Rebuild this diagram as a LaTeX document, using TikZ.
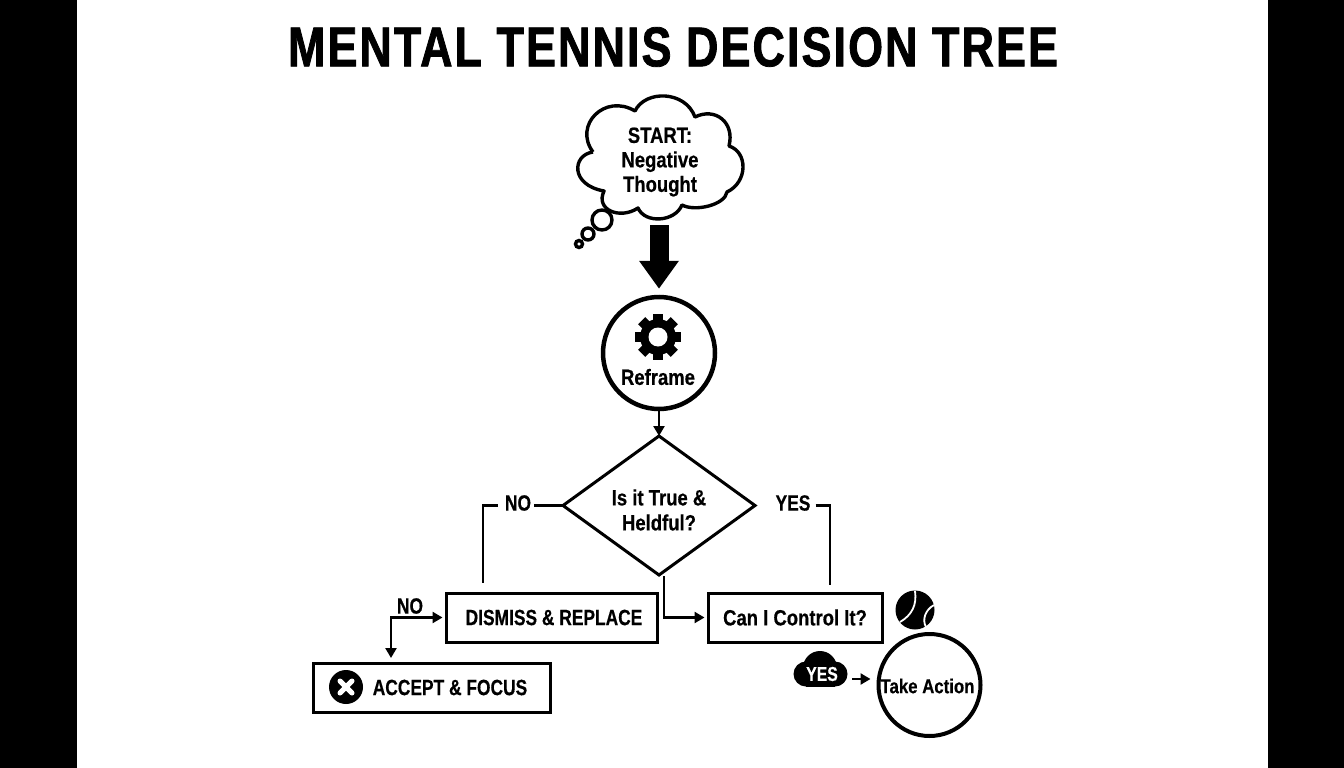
\documentclass[tikz,border=0pt]{standalone}
\usepackage{fontspec}
\setmainfont[FakeStretch=0.84,FakeBold=0.5]{Liberation Sans Bold}
\newfontfamily\capsfont[FakeStretch=0.79,FakeBold=0.5]{Liberation Sans Bold}
\newfontfamily\titlefont[FakeStretch=0.80,LetterSpace=3.8,FakeBold=1.4]{Liberation Sans Bold}
\usetikzlibrary{shapes.geometric,arrows.meta}
\tikzset{
  lbl/.style={inner sep=1pt,align=center,font=\fontsize{22}{24.5}\selectfont},
  capslbl/.style={inner sep=1pt,align=center,font=\capsfont\fontsize{22}{24.5}\selectfont},
  boxnode/.style={draw,line width=3pt,inner sep=0pt,font=\fontsize{22}{24.5}\selectfont},
  link/.style={line width=2.4pt},
  thinarrow/.style={line width=2.4pt,-{Triangle[width=11pt,length=10pt]}}
}
\begin{document}
\begin{tikzpicture}[x=1pt,y=-1pt]

    % Fix the page and draw the side bars
    \useasboundingbox (0,0) rectangle (1344,768);
    \fill[white] (0,0) rectangle (1344,768);
    \fill[black] (0,0) rectangle (77,768);
    \fill[black] (1268,0) rectangle (1344,768);

    % Title
    \node[inner sep=0pt,font=\titlefont\fontsize{56}{60}\selectfont] (title) at (673,47) {MENTAL TENNIS DECISION TREE};

    % Thought cloud, lobe by lobe
    \draw[line width=3.4pt,line join=round]
      (593,152) .. controls (573,125) and (605,93) .. (635,111)
      .. controls (645,90) and (685,90) .. (695,117)
      .. controls (715,107) and (735,122) .. (729,146)
      .. controls (748,152) and (748,182) .. (727,192)
      .. controls (725,205) and (695,212) .. (682,205)
      .. controls (675,222) and (645,224) .. (638,208)
      .. controls (620,220) and (595,210) .. (604,191)
      .. controls (570,185) and (572,155) .. (593,152);
    \node[lbl] (start) at (660,162) {START:\\Negative\\Thought};
    \coordinate (cloudbot) at (659,218);

    % Small thought bubbles
    \draw[line width=3.4pt] (602,220) circle (10);
    \draw[line width=3.4pt] (588,234) circle (6);
    \draw[line width=3.4pt] (579,244) circle (3.5);

    % Reframe circle with the gear
    \node[circle,draw,line width=4.5pt,minimum size=112pt,inner sep=0pt] (reframe) at (659,353) {};
    \coordinate (gear) at (658,337);
    \fill (gear) circle (18);
    \foreach \a in {0,45,...,315}
      \fill[rotate around={\a:(gear)}] (653,314) rectangle (663,325);
    \fill[white] (gear) circle (9.5);
    \node[lbl] (reframetxt) at (658,377) {Reframe};

    % Big arrow from the cloud to the circle
    \draw[line width=19pt,-{Triangle[width=38pt,length=28pt]},shorten <=7pt,shorten >=6pt] (cloudbot) -- (reframe.north);

    % Decision diamond
    \node[diamond,draw,line width=3pt,minimum width=192pt,minimum height=139pt,inner sep=0pt,outer sep=0pt] (truth) at (659,505.5) {};
    \node[lbl,font=\fontsize{22}{25}\selectfont] (truthtxt) at (659,510) {Is it True \&\\Heldful?};
    \draw[thinarrow] (reframe.south) -- (truth.north);

    % Boxes of the lower row
    \node[boxnode,minimum width=211pt,minimum height=49pt] (dismiss) at (551.5,617.5) {};
    \node[capslbl] (dismisstxt) at (554,617.5) {DISMISS \& REPLACE};
    \node[boxnode,minimum width=174pt,minimum height=49pt] (control) at (795,617.5) {Can I Control It?};
    \node[boxnode,minimum width=237pt,minimum height=49pt] (accept) at (431.5,687.5) {};
    \node[capslbl] (accepttxt) at (450,687.5) {ACCEPT \& FOCUS};

    % Cross in the accept box
    \fill (346,687) circle (17);
    \draw[white,line width=5pt,line cap=round] (340,681) -- (352,693);
    \draw[white,line width=5pt,line cap=round] (340,693) -- (352,681);

    % Free ends of the open lines
    \coordinate (noend) at (483,583);
    \coordinate (yesend) at (830,585);
    \coordinate (acctop) at (391,663);

    % NO branch of the diamond
    \node[capslbl] (nolabel) at (518,503) {NO};
    \draw[link] (truth.west) -- ++(-29,0);
    \draw[link] (nolabel.west |- truth.west) ++(-6,0) -| (noend);

    % YES branch of the diamond
    \node[capslbl] (yeslabel) at (793,503) {YES};
    \draw[link] (yeslabel.east |- truth.east) ++(4,0) -| (yesend);

    % Line from the bottom of the diamond to the control box
    \draw[thinarrow,shorten >=2pt] (664,576) |- (control.west);

    % NO arrow between dismiss box and accept box
    \node[capslbl] (nosmall) at (410,606) {NO};
    \draw[link,{Triangle[width=11pt,length=10pt]}-{Triangle[width=11pt,length=10pt]},shorten <=2pt,shorten >=5pt] (dismiss.west) -| (acctop);

    % Tennis ball
    \fill (915,610) circle (19.5);
    \draw[white,line width=1.8pt] (915,591) .. controls (917,605) and (912,615) .. (900,622);
    \draw[white,line width=1.8pt] (934,605) .. controls (925,610) and (922,620) .. (926,627);

    % Take action circle
    \node[circle,draw,line width=4pt,minimum size=102pt,inner sep=0pt] (action) at (929.5,685) {};
    \node[capslbl,font=\fontsize{20}{22}\selectfont] (actiontxt) at (927.5,686) {Take Action};

    % Black cloud with YES
    \fill (806,674) circle (12.5);
    \fill (835,674) circle (12.5);
    \fill (820,668) circle (17);
    \fill (806,671) rectangle (835,686.5);
    \node[capslbl,white,font=\capsfont\fontsize{20}{22}\selectfont] (yescloud) at (822,674) {YES};
    \coordinate (yesout) at (852,679);
    \draw[thinarrow,shorten >=6pt] (yesout) -- (yesout -| action.west);

\end{tikzpicture}
\end{document}
